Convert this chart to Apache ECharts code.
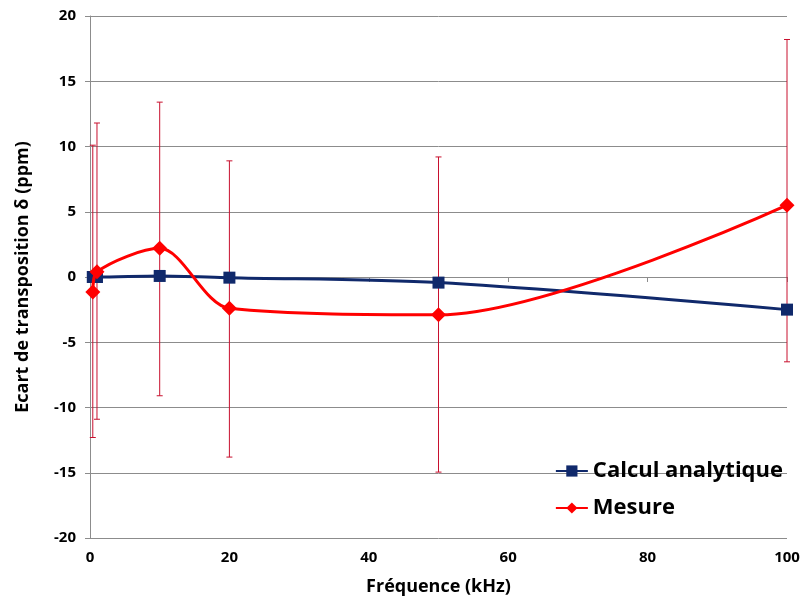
<!DOCTYPE html>
<html style="height: 100%">
<head>
    <meta charset="utf-8">
    <script src="https://cdn.jsdelivr.net/npm/echarts@6/dist/echarts.min.js"></script>
</head>
<body style="height: 100%; margin: 0; background: #fff;">
<div id="container" style="width: 810px; height: 610px;"></div>
<script type="text/javascript">
    // données
    var freq = [0.4, 1, 10, 20, 50, 100];             // kHz
    var calcul = [0, 0, 0.08, -0.05, -0.43, -2.5];      // ppm
    var mesure = [-1.15, 0.4, 2.2, -2.4, -2.9, 5.5];    // ppm
    var errHaut = [10.1, 11.8, 13.4, 8.9, 9.2, 18.2];   // haut des barres d'erreur
    var errBas = [-12.3, -10.9, -9.1, -13.8, -14.95, -6.5];
    var yTicks = [-20, -15, -10, -5, 0, 5, 10, 15, 20];

    var police = "'Open Sans', sans-serif";

    var dom = document.getElementById("container");
    var myChart = echarts.init(dom);

    var calculData = freq.map(function (f, i) { return [f, calcul[i]]; });
    var mesureData = freq.map(function (f, i) { return [f, mesure[i]]; });
    var errData = freq.map(function (f, i) { return [f, errBas[i], errHaut[i]]; });

    var option = {
        animation: false,
        grid: {left: 90, right: 23, top: 16, bottom: 72},
        legend: {
            data: ['Calcul analytique', 'Mesure'],
            orient: 'vertical',
            right: 22,
            top: 455,
            itemGap: 15,
            itemWidth: 32,
            itemHeight: 14,
            textStyle: {fontFamily: police, fontWeight: 'bold', fontSize: 22, color: '#000'}
        },
        xAxis: {
            type: 'value',
            min: 0,
            max: 100,
            interval: 20,
            name: 'Fréquence (kHz)',
            nameLocation: 'middle',
            nameGap: 40,
            nameTextStyle: {fontFamily: police, fontWeight: 'bold', fontSize: 18, color: '#000'},
            axisLine: {lineStyle: {color: '#8c8c8c'}},
            axisTick: {show: true, length: 5, lineStyle: {color: '#8c8c8c'}},
            axisLabel: {fontFamily: police, fontWeight: 'bold', fontSize: 15, color: '#000', margin: 12},
            splitLine: {show: false}
        },
        yAxis: {
            type: 'value',
            min: yTicks[0],
            max: yTicks[yTicks.length - 1],
            interval: 5,
            name: 'Ecart de transposition δ (ppm)',
            nameLocation: 'middle',
            nameGap: 58,
            nameTextStyle: {fontFamily: police, fontWeight: 'bold', fontSize: 18, color: '#000'},
            axisLine: {show: true, lineStyle: {color: '#8c8c8c'}},
            axisTick: {show: true, length: 5, lineStyle: {color: '#8c8c8c'}},
            axisLabel: {fontFamily: police, fontWeight: 'bold', fontSize: 15, color: '#000', margin: 14},
            splitLine: {lineStyle: {color: '#8c8c8c', width: 1}}
        },
        series: [
            {
                name: 'barres',
                type: 'custom',
                z: 1,
                data: errData,
                encode: {x: 0, y: [1, 2]},
                renderItem: function (params, api) {
                    var bas = api.coord([api.value(0), api.value(1)]);
                    var haut = api.coord([api.value(0), api.value(2)]);
                    var d = 3;
                    var st = {stroke: '#c8102e', lineWidth: 1};
                    return {
                        type: 'group',
                        children: [
                            {type: 'line', shape: {x1: haut[0], y1: haut[1], x2: bas[0], y2: bas[1]}, style: st},
                            {type: 'line', shape: {x1: haut[0] - d, y1: haut[1], x2: haut[0] + d, y2: haut[1]}, style: st},
                            {type: 'line', shape: {x1: bas[0] - d, y1: bas[1], x2: bas[0] + d, y2: bas[1]}, style: st}
                        ]
                    };
                }
            },
            {
                name: 'Calcul analytique',
                type: 'line',
                z: 3,
                smooth: 0.3,
                data: calculData,
                symbol: 'rect',
                symbolSize: 12,
                lineStyle: {color: '#10296b', width: 3},
                itemStyle: {color: '#10296b'}
            },
            {
                name: 'Mesure',
                type: 'line',
                z: 4,
                smooth: 0.3,
                data: mesureData,
                symbol: 'diamond',
                symbolSize: [15, 15],
                lineStyle: {color: '#ff0000', width: 3},
                itemStyle: {color: '#ff0000'}
            }
        ]
    };

    myChart.setOption(option, true);
</script>
</body>
</html>
